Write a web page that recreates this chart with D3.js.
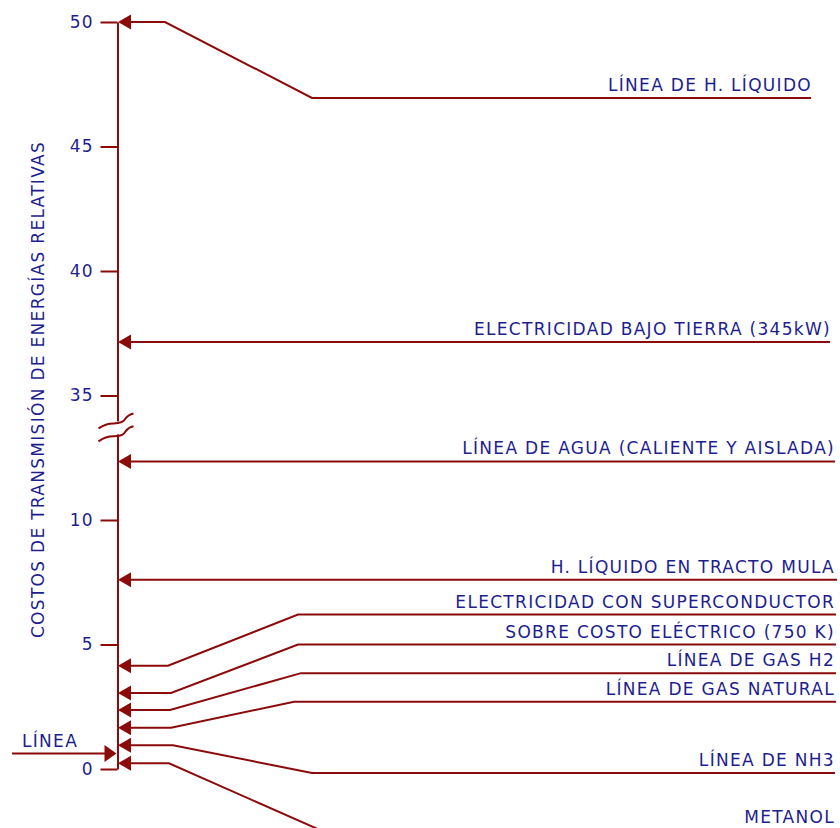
<!DOCTYPE html>
<html>
<head>
<meta charset="utf-8">
<script src="https://cdn.jsdelivr.net/npm/d3@7"></script>
<style>
  html, body { margin: 0; padding: 0; background: #ffffff; }
  svg { display: block; }
  text { font-family: "DejaVu Sans", Verdana, sans-serif; }
</style>
</head>
<body>
<div id="chart"></div>
<script>
// ---------------- data ----------------
const categories = [
  "LÍNEA DE H. LÍQUIDO",
  "ELECTRICIDAD BAJO TIERRA (345kW)",
  "LÍNEA DE AGUA (CALIENTE Y AISLADA)",
  "H. LÍQUIDO EN TRACTO MULA",
  "ELECTRICIDAD CON SUPERCONDUCTOR",
  "SOBRE COSTO ELÉCTRICO (750 K)",
  "LÍNEA DE GAS H2",
  "LÍNEA DE GAS NATURAL",
  "LÍNEA DE NH3",
  "METANOL"
];
// relative transmission cost where each arrow meets the axis
const costs = [50, 37.15, 12.35, 7.6, 4.15, 3.05, 2.37, 1.66, 0.95, 0.23];
// level (in axis units) of the horizontal label leader
const labelLevels = [46.95, 37.15, 12.35, 7.6, 6.2, 5.0, 3.85, 2.7, -0.16, -2.45];
const referenceLabel = "LÍNEA";
const referenceCost = 0.62;
const tickValues = [0, 5, 10, 35, 40, 45, 50];
const axisTitle = "COSTOS DE TRANSMISIÓN DE ENERGÍAS RELATIVAS";
// axis break: values between these two are not shown
const breakLow = 13.4, breakHigh = 34;

// ---------------- layout ----------------
const W = 840, H = 828;
const axisX = 117.5;
const yTop = 22, yBottom = 769;
const pxPerUnit = (yBottom - yTop) / 30;
const lineColor = "#8b0a0a";
const textColor = "#1e1e8e";
const fontSize = 17;
const letterSpacing = 1.3;

// connector routing (x positions) per label
const routes = [
  { e1: 165, e2: 312, end: 811 },
  { e1: null, e2: null, end: 830 },
  { e1: null, e2: null, end: 835 },
  { e1: null, e2: null, end: 837 },
  { e1: 168, e2: 298, end: 836 },
  { e1: 171, e2: 298, end: 836 },
  { e1: 170, e2: 301, end: 836 },
  { e1: 171, e2: 294, end: 836 },
  { e1: 173, e2: 312, end: 835 },
  { e1: 169, e2: 320, end: 835 }
];

const y = d3.scaleLinear()
  .domain([-5, 0, breakLow, breakHigh, 50])
  .range([yBottom + 5 * pxPerUnit, yBottom, yBottom - breakLow * pxPerUnit,
          yTop + (50 - breakHigh) * pxPerUnit, yTop]);

const svg = d3.select("#chart").append("svg")
  .attr("width", W).attr("height", H);

function leftArrow(tipX, cy, len, half) {
  return `M${tipX},${cy} L${tipX + len},${cy - half} L${tipX + len},${cy + half} Z`;
}

// ---------------- axis ----------------
const axisScale = d3.scaleLinear()
  .domain([0, breakLow, breakHigh, 50])
  .range([y(0), y(breakLow), y(breakHigh), y(50)]);

const axis = d3.axisLeft(axisScale)
  .tickValues(tickValues)
  .tickSize(17)
  .tickSizeOuter(0)
  .tickPadding(7)
  .tickFormat(d3.format("d"));

const gAxis = svg.append("g")
  .attr("transform", `translate(${axisX},0)`)
  .call(axis);
gAxis.select(".domain").attr("stroke", lineColor).attr("stroke-width", 2);
gAxis.selectAll(".tick line").attr("stroke", lineColor).attr("stroke-width", 2);
gAxis.selectAll(".tick text")
  .attr("fill", textColor)
  .style("font-size", fontSize + "px")
  .style("letter-spacing", "1px")
  .style("font-family", "'DejaVu Sans', Verdana, sans-serif");

// axis break symbol
const bTop = y(breakHigh) - 2, bBot = y(breakLow) + 2;
svg.append("rect")
  .attr("x", axisX - 4).attr("y", bTop + 3)
  .attr("width", 8).attr("height", bBot - bTop - 6)
  .attr("fill", "#ffffff");
[bTop + 3, bBot - 3].forEach(cy => {
  svg.append("path")
    .attr("d", `M${axisX - 19},${cy + 7} Q${axisX - 12},${cy + 2} ${axisX - 4},${cy + 2} Q${axisX + 6},${cy + 2} ${axisX + 8},${cy - 3} Q${axisX + 11},${cy - 7} ${axisX + 16},${cy - 8}`)
    .attr("fill", "none")
    .attr("stroke", lineColor)
    .attr("stroke-width", 2);
});

// axis title
svg.append("text")
  .attr("transform", `translate(44,${(y(0) + y(50)) / 2 - 6}) rotate(-90)`)
  .attr("text-anchor", "middle")
  .attr("fill", textColor)
  .style("font-size", fontSize + "px")
  .style("letter-spacing", "1.3px")
  .text(axisTitle);

// ---------------- connectors ----------------
const items = categories.map((c, i) => ({ name: c, cost: costs[i], level: labelLevels[i], r: routes[i] }));

const line = d3.line().x(d => d[0]).y(d => d[1]);

svg.append("g").selectAll("path.conn")
  .data(items)
  .join("path")
  .attr("class", "conn")
  .attr("d", d => {
    const pts = [[axisX + 8, y(d.cost)]];
    if (d.r.e1 !== null) {
      pts.push([d.r.e1, y(d.cost)]);
      pts.push([d.r.e2, y(d.level)]);
    }
    pts.push([d.r.end, y(d.level)]);
    return line(pts);
  })
  .attr("fill", "none")
  .attr("stroke", lineColor)
  .attr("stroke-width", 2);

svg.append("g").selectAll("path.head")
  .data(items)
  .join("path")
  .attr("class", "head")
  .attr("d", d => leftArrow(axisX + 0.5, y(d.cost), 13, 7.5))
  .attr("fill", lineColor);

svg.append("g").selectAll("text.lbl")
  .data(items)
  .join("text")
  .attr("class", "lbl")
  .attr("x", d => Math.min(d.r.end + 1, 835))
  .attr("y", d => y(d.level) - 7)
  .attr("text-anchor", "end")
  .attr("fill", textColor)
  .style("font-size", fontSize + "px")
  .style("letter-spacing", letterSpacing + "px")
  .text(d => d.name);

// ---------------- reference input arrow ----------------
const ry = y(referenceCost);
svg.append("line")
  .attr("x1", 12).attr("x2", axisX - 12)
  .attr("y1", ry).attr("y2", ry)
  .attr("stroke", lineColor).attr("stroke-width", 2);
svg.append("path")
  .attr("d", `M${axisX - 1},${ry} L${axisX - 13},${ry - 8.5} L${axisX - 13},${ry + 8.5} Z`)
  .attr("fill", lineColor);
svg.append("text")
  .attr("x", 22).attr("y", ry - 7)
  .attr("fill", textColor)
  .style("font-size", fontSize + "px")
  .style("letter-spacing", letterSpacing + "px")
  .text(referenceLabel);
</script>
</body>
</html>
